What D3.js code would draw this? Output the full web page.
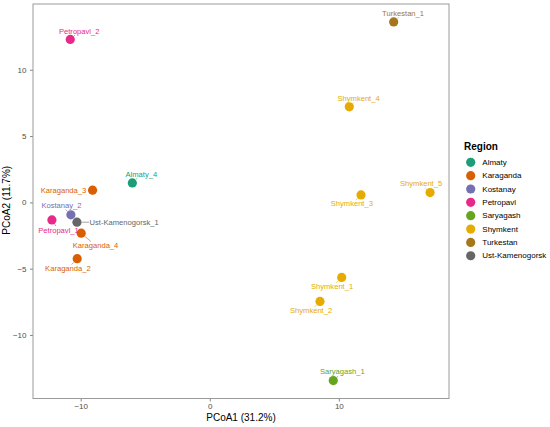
<!DOCTYPE html>
<html>
<head>
  <meta charset="utf-8">
  <title>PCoA by region</title>
  <style>
    body { margin: 0; background: #fff; }
    svg { display: block; font-family: "Liberation Sans", Arial, Helvetica, sans-serif; }
  </style>
</head>
<body>
  <svg id="canvas"></svg>
  <script src="https://d3js.org/d3.v7.min.js"></script>
  <script>

    // sample names, region, PCoA coordinates
    const samples = ["Petropavl_2", "Almaty_4", "Karaganda_3", "Kostanay_2", "Petropavl_1", "Ust-Kamenogorsk_1",
      "Karaganda_4", "Karaganda_2", "Turkestan_1", "Shymkent_4", "Shymkent_3", "Shymkent_5",
      "Shymkent_1", "Shymkent_2", "Saryagash_1"];
    const sampleRegion = ["Petropavl", "Almaty", "Karaganda", "Kostanay", "Petropavl", "Ust-Kamenogorsk",
      "Karaganda", "Karaganda", "Turkestan", "Shymkent", "Shymkent", "Shymkent",
      "Shymkent", "Shymkent", "Saryagash"];
    const pcoa1 = [-10.81, -6.0, -9.08, -10.76, -12.23, -10.29, -9.96, -10.27, 14.25, 10.81, 11.72, 17.07, 10.22, 8.54, 9.57];
    const pcoa2 = [12.29, 1.47, 0.92, -0.94, -1.32, -1.49, -2.32, -4.25, 13.61, 7.21, 0.56, 0.74, -5.66, -7.47, -13.44];

    const regions = ["Almaty", "Karaganda", "Kostanay", "Petropavl", "Saryagash", "Shymkent", "Turkestan", "Ust-Kamenogorsk"];
    const regionColors = ["#1B9E77", "#D95F02", "#7570B3", "#E7298A", "#66A61E", "#E6AB02", "#A6761D", "#666666"];

    const xTicks = [-10, 0, 10];
    const yTicks = [-10, -5, 0, 5, 10];
    const xTitle = "PCoA1 (31.2%)";
    const yTitle = "PCoA2 (11.7%)";
    const legendTitle = "Region";

    // where the repelled labels ended up, relative to their point (px)
    const labelPlace = {
      "Petropavl_2": [9, -8.3, "middle"], "Almaty_4": [9, -8.7, "middle"], "Karaganda_3": [-6.3, 0.7, "end"],
      "Kostanay_2": [-9.4, -9.3, "middle"], "Petropavl_1": [6.6, 10.3, "middle"], "Ust-Kamenogorsk_1": [12.6, 0.4, "start"],
      "Karaganda_4": [14.3, 12.4, "middle"], "Karaganda_2": [-9.3, 9.7, "middle"], "Turkestan_1": [9.4, -8.4, "middle"],
      "Shymkent_4": [9.3, -8, "middle"], "Shymkent_3": [-9.2, 9, "middle"], "Shymkent_5": [-9, -9, "middle"],
      "Shymkent_1": [-9.6, 9.3, "middle"], "Shymkent_2": [-8.9, 9.3, "middle"], "Saryagash_1": [9, -8.7, "middle"]
    };

    const data = samples.map((s, i) => ({ name: s, region: sampleRegion[i], x: pcoa1[i], y: pcoa2[i] }));

    const W = 550, H = 427;
    const panel = { left: 33, top: 4, right: 449, bottom: 398.5 };
    const svg = d3.select("#canvas").attr("width", W).attr("height", H);

    const expand = ([a, b]) => { const p = (b - a) * 0.05; return [a - p, b + p]; };
    const x = d3.scaleLinear().domain(expand(d3.extent(data, d => d.x))).range([panel.left, panel.right]);
    const y = d3.scaleLinear().domain(expand(d3.extent(data, d => d.y))).range([panel.bottom, panel.top]);
    const color = d3.scaleOrdinal().domain(regions).range(regionColors);

    // axes
    const xAxis = svg.append("g")
      .attr("transform", "translate(0," + panel.bottom + ")")
      .call(d3.axisBottom(x).tickValues(xTicks).tickSize(3).tickPadding(2).tickFormat(d3.format("d")));
    const yAxis = svg.append("g")
      .attr("transform", "translate(" + panel.left + ",0)")
      .call(d3.axisLeft(y).tickValues(yTicks).tickSize(3).tickPadding(3.5).tickFormat(d3.format("d")));
    [xAxis, yAxis].forEach(a => {
      a.select(".domain").remove();
      a.selectAll(".tick line").attr("stroke", "#333333").attr("stroke-width", 0.6);
      a.selectAll(".tick text").attr("fill", "#4d4d4d").style("font-size", "8px")
        .style("font-family", "'Liberation Sans', Arial, sans-serif");
    });

    // panel border
    svg.append("rect")
      .attr("x", panel.left).attr("y", panel.top)
      .attr("width", panel.right - panel.left).attr("height", panel.bottom - panel.top)
      .attr("fill", "none").attr("stroke", "#9a9a9a").attr("stroke-width", 1);

    // axis titles
    svg.append("text")
      .attr("x", (panel.left + panel.right) / 2).attr("y", 421)
      .attr("text-anchor", "middle").style("font-size", "10px").attr("fill", "#000")
      .text(xTitle);
    svg.append("text")
      .attr("transform", "translate(10," + ((panel.top + panel.bottom) / 2 - 1) + ") rotate(-90)")
      .attr("text-anchor", "middle").style("font-size", "10px").attr("fill", "#000")
      .text(yTitle);

    // points
    const r = 4.6;
    svg.append("g").selectAll("circle")
      .data(data)
      .enter().append("circle")
      .attr("cx", d => x(d.x))
      .attr("cy", d => y(d.y))
      .attr("r", r)
      .attr("fill", d => color(d.region));

    // labels, with a short leader where the label sits away from its point
    const segG = svg.append("g");
    const labG = svg.append("g");
    data.forEach(d => {
      const p = labelPlace[d.name];
      const px = x(d.x), py = y(d.y);
      const t = labG.append("text")
        .attr("x", px + p[0]).attr("y", py + p[1])
        .attr("text-anchor", p[2])
        .attr("dominant-baseline", "central")
        .style("font-size", "7.6px")
        .attr("fill", color(d.region))
        .text(d.name);
      const b = t.node().getBBox();
      const dx = b.x + b.width / 2 - px, dy = p[1];
      const hw = b.width / 2 + 0.5, hh = 4;
      const len = Math.hypot(dx, dy);
      const endLen = len * Math.max(
        Math.abs(dx) > hw ? (Math.abs(dx) - hw) / Math.abs(dx) : 0,
        Math.abs(dy) > hh ? (Math.abs(dy) - hh) / Math.abs(dy) : 0);
      const startLen = r + 0.5;
      if (endLen - startLen > 1) {
        segG.append("line")
          .attr("x1", px + dx / len * startLen).attr("y1", py + dy / len * startLen)
          .attr("x2", px + dx / len * endLen).attr("y2", py + dy / len * endLen)
          .attr("stroke", color(d.region)).attr("stroke-width", 0.6);
      }
    });

    // legend
    const leg = svg.append("g").attr("transform", "translate(464,0)");
    leg.append("text").attr("x", 0).attr("y", 149.5)
      .style("font-size", "10px").style("font-weight", "bold").attr("fill", "#000")
      .text(legendTitle);
    const items = leg.selectAll(".key").data(regions).enter().append("g")
      .attr("class", "key")
      .attr("transform", (d, i) => "translate(0," + (162.3 + i * 13.35) + ")");
    items.append("circle").attr("cx", 6.7).attr("cy", 0).attr("r", r).attr("fill", d => color(d));
    items.append("text").attr("x", 18.3).attr("y", 0)
      .attr("dominant-baseline", "central")
      .style("font-size", "8px").attr("fill", "#000")
      .text(d => d);

  </script>
</body>
</html>
